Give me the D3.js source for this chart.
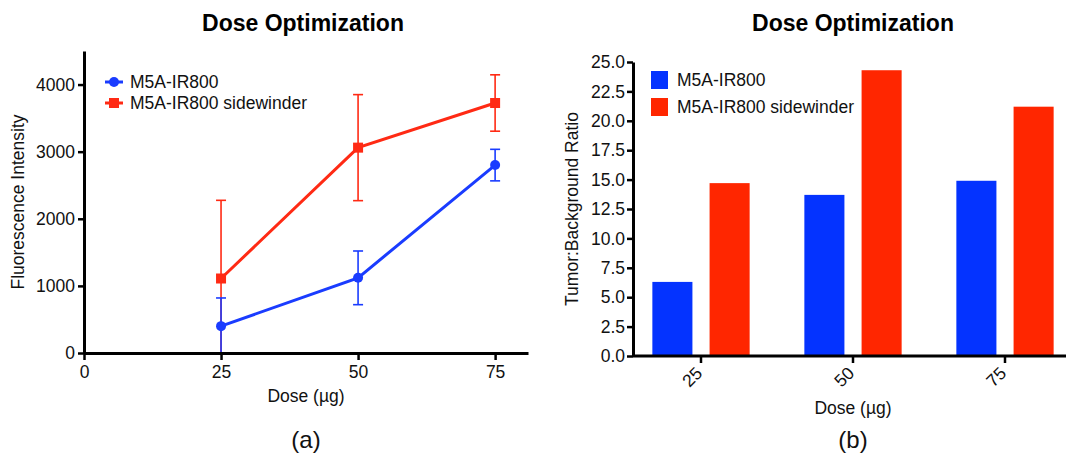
<!DOCTYPE html>
<html lang="en">
<head>
  <meta charset="UTF-8">
  <title>Dose Optimization</title>
  <script src="https://cdn.jsdelivr.net/npm/d3@7"></script>
  <style>
    body{ margin:0; background:#fff; }
    svg, svg text{ font-family: "Liberation Sans", Arial, Helvetica, sans-serif; }
    .axis path, .axis line{ stroke:#000; }
    .axis text{ font-size:17.5px; fill:#111; }
  </style>
</head>
<body>
<div class="chart"></div>
<script>
  // data
  const doses = [25, 50, 75];
  const seriesNames = ['M5A-IR800', 'M5A-IR800 sidewinder'];
  const fluorMean = [[400, 1120, 2800], [1110, 3060, 3725]];
  const fluorErr  = [[420, 400, 235], [1165, 790, 420]];
  const ratio = [[6.3, 13.7, 14.9], [14.7, 24.3, 21.2]];
  const fluorTicks = [0, 1000, 2000, 3000, 4000];
  const doseTicks = [0, 25, 50, 75];
  const ratioTicks = [0, 2.5, 5, 7.5, 10, 12.5, 15, 17.5, 20, 22.5, 25];

  const lineColors = ['#1a3cff', '#ff2a14'];
  const barColors = ['#0433ff', '#ff2600'];

  const svg = d3.select('.chart').append('svg')
    .attr('width', 1066).attr('height', 457);

  // ---------- (a) line chart ----------
  const xA = d3.scaleLinear().domain([0, 81]).range([84, 528]);
  const yA = d3.scaleLinear().domain([0, 4500]).range([353, 51]);

  svg.append('text').attr('x', 303).attr('y', 31).attr('text-anchor', 'middle')
    .style('font-size', '23px').style('font-weight', 'bold').text('Dose Optimization');

  // series drawn red first so blue sits on top
  [1, 0].forEach(s => {
    const pts = doses.map((d, i) => ({dose: d, v: fluorMean[s][i], e: fluorErr[s][i]}));
    const g = svg.append('g');
    pts.forEach(p => {
      const lo = Math.max(0, p.v - p.e), hi = p.v + p.e;
      g.append('line').attr('x1', xA(p.dose)).attr('x2', xA(p.dose))
        .attr('y1', yA(lo)).attr('y2', yA(hi))
        .attr('stroke', lineColors[s]).attr('stroke-width', 1.6);
      [hi].concat(p.v - p.e > 0 ? [lo] : []).forEach(v => {
        g.append('line').attr('x1', xA(p.dose) - 5).attr('x2', xA(p.dose) + 5)
          .attr('y1', yA(v)).attr('y2', yA(v))
          .attr('stroke', lineColors[s]).attr('stroke-width', 1.6);
      });
    });
    g.append('path').datum(pts)
      .attr('d', d3.line().x(d => xA(d.dose)).y(d => yA(d.v)))
      .attr('fill', 'none').attr('stroke', lineColors[s]).attr('stroke-width', 3);
    if (s === 0) {
      g.selectAll('circle').data(pts).enter().append('circle')
        .attr('cx', p => xA(p.dose)).attr('cy', p => yA(p.v)).attr('r', 5)
        .attr('fill', lineColors[s]);
    } else {
      g.selectAll('rect').data(pts).enter().append('rect')
        .attr('x', p => xA(p.dose) - 5).attr('y', p => yA(p.v) - 5)
        .attr('width', 10).attr('height', 10).attr('fill', lineColors[s]);
    }
  });

  const axA = svg.append('g').attr('class', 'axis').attr('transform', 'translate(0,353)')
    .call(d3.axisBottom(xA).tickValues(doseTicks).tickSize(7).tickPadding(6).tickSizeOuter(0));
  const ayA = svg.append('g').attr('class', 'axis').attr('transform', 'translate(84,0)')
    .call(d3.axisLeft(yA).tickValues(fluorTicks).tickFormat(d3.format('d')).tickSize(6).tickPadding(3).tickSizeOuter(0));
  [axA, ayA].forEach(a => {
    a.select('.domain').attr('stroke-width', 3);
    a.selectAll('.tick line').attr('stroke-width', 2.5);
  });

  svg.append('text').attr('transform', 'translate(24,202) rotate(-90)').attr('text-anchor', 'middle')
    .style('font-size', '17.5px').attr('fill', '#111').text('Fluorescence Intensity');
  svg.append('text').attr('x', 306).attr('y', 402).attr('text-anchor', 'middle')
    .style('font-size', '17.5px').attr('fill', '#111').text('Dose (\u00b5g)');
  svg.append('text').attr('x', 306).attr('y', 448).attr('text-anchor', 'middle')
    .style('font-size', '24px').attr('fill', '#111').text('(a)');

  // legend (a)
  seriesNames.forEach((name, s) => {
    const ly = 82 + s * 21;
    svg.append('line').attr('x1', 105).attr('x2', 123).attr('y1', ly).attr('y2', ly)
      .attr('stroke', lineColors[s]).attr('stroke-width', 3);
    if (s === 0) svg.append('circle').attr('cx', 114).attr('cy', ly).attr('r', 5).attr('fill', lineColors[s]);
    else svg.append('rect').attr('x', 109).attr('y', ly - 5).attr('width', 10).attr('height', 10).attr('fill', lineColors[s]);
    svg.append('text').attr('x', 130).attr('y', ly + 6).style('font-size', '17.5px')
      .attr('fill', '#111').text(name);
  });

  // ---------- (b) grouped bar chart ----------
  const x0 = d3.scaleBand().domain(doses).range([625, 1081]).paddingInner(0.36).paddingOuter(0.18);
  const x1 = d3.scaleBand().domain(d3.range(seriesNames.length)).range([0, x0.bandwidth()]).paddingInner(0.3);
  const yB = d3.scaleLinear().domain([0, 25]).range([356, 62]);

  svg.append('text').attr('x', 853).attr('y', 31).attr('text-anchor', 'middle')
    .style('font-size', '23px').style('font-weight', 'bold').text('Dose Optimization');

  const gBars = svg.append('g');
  doses.forEach((d, i) => {
    seriesNames.forEach((name, s) => {
      gBars.append('rect')
        .attr('x', x0(d) + x1(s)).attr('width', x1.bandwidth())
        .attr('y', yB(ratio[s][i])).attr('height', yB(0) - yB(ratio[s][i]))
        .attr('fill', barColors[s]);
    });
  });

  const ayB = svg.append('g').attr('class', 'axis').attr('transform', 'translate(633,0)')
    .call(d3.axisLeft(yB).tickValues(ratioTicks).tickFormat(d3.format('.1f')).tickSize(6).tickPadding(2).tickSizeOuter(0));
  // x axis line spans from the y axis to the right edge
  const axB = svg.append('g').attr('class', 'axis').attr('transform', 'translate(0,356)')
    .call(d3.axisBottom(x0).tickSize(7).tickSizeOuter(0));
  axB.select('.domain').attr('d', 'M633,0H1066');
  axB.selectAll('.tick text')
    .attr('text-anchor', 'end').attr('dy', '0.35em')
    .attr('transform', 'translate(-2,14) rotate(-45)').attr('x', 0).attr('y', 0);
  [axB, ayB].forEach(a => {
    a.select('.domain').attr('stroke-width', 3);
    a.selectAll('.tick line').attr('stroke-width', 2.5);
  });

  svg.append('text').attr('transform', 'translate(578,209) rotate(-90)').attr('text-anchor', 'middle')
    .style('font-size', '17.5px').attr('fill', '#111').text('Tumor:Background Ratio');
  svg.append('text').attr('x', 853).attr('y', 414).attr('text-anchor', 'middle')
    .style('font-size', '17.5px').attr('fill', '#111').text('Dose (\u00b5g)');
  svg.append('text').attr('x', 853).attr('y', 448).attr('text-anchor', 'middle')
    .style('font-size', '24px').attr('fill', '#111').text('(b)');

  // legend (b)
  seriesNames.forEach((name, s) => {
    const ly = 80 + s * 27;
    svg.append('rect').attr('x', 651).attr('y', ly - 9).attr('width', 17).attr('height', 18)
      .attr('fill', barColors[s]);
    svg.append('text').attr('x', 677).attr('y', ly + 6).style('font-size', '17.5px')
      .attr('fill', '#111').text(name);
  });
</script>
</body>
</html>
